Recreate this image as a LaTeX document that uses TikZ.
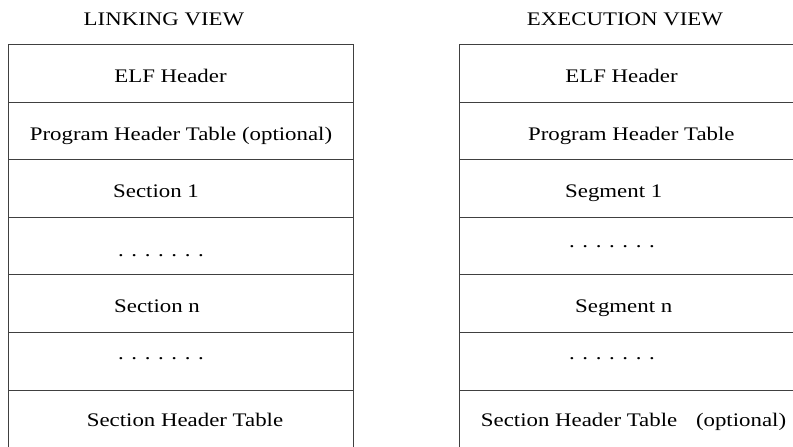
\documentclass[tikz,border=0pt]{standalone}
\usepackage{fontspec}
\setmainfont{Liberation Serif}[FakeStretch=1.19]

\begin{document}
\begin{tikzpicture}[x=1pt, y=-1pt,
    every node/.style={anchor=base, inner sep=0pt, font=\fontsize{19.2}{23}\selectfont},
    frame/.style={draw=black!75, line width=0.8pt}]
    \clip (0,0) rectangle (793,447);
    % Linking view
    \begin{scope}[xshift=8.5pt]
        \draw[frame] (0,44) rectangle (345,460);
        \foreach \y in {102,159.5,217,274.3,332.3,390}
            \draw[frame] (0,\y) -- (345,\y);
        \node (lktitle) at (155.5,25) {LINKING VIEW};
        \node (lkelf) at (162,82.7) {ELF Header};
        \node (lkpht) at (172.5,140) {Program Header Table (optional)};
        \node (lksec1) at (147.5,197) {Section 1};
        \node (lkdots1) at (152.5,256) {. . . . . . .};
        \node (lksecn) at (148.5,312.5) {Section n};
        \node (lkdots2) at (152.5,359.5) {. . . . . . .};
        \node (lksht) at (176.5,426.7) {Section Header Table};
    \end{scope}
    % Execution view
    \begin{scope}[xshift=459.5pt]
        \draw[frame] (0,44) rectangle (345,460);
        \foreach \y in {102,159.5,217,274.3,332.3,390}
            \draw[frame] (0,\y) -- (345,\y);
        \node (extitle) at (165.5,25) {EXECUTION VIEW};
        \node (exelf) at (162,82.7) {ELF Header};
        \node (expht) at (171.8,140) {Program Header Table};
        \node (exseg1) at (154.2,197) {Segment 1};
        \node (exdots1) at (152.5,247) {. . . . . . .};
        \node (exsegn) at (164.2,312) {Segment n};
        \node (exdots2) at (152.5,359.5) {. . . . . . .};
        \node (exsht) at (174,426.7) {Section Header Table\hspace{13pt} (optional)};
    \end{scope}
\end{tikzpicture}
\end{document}
